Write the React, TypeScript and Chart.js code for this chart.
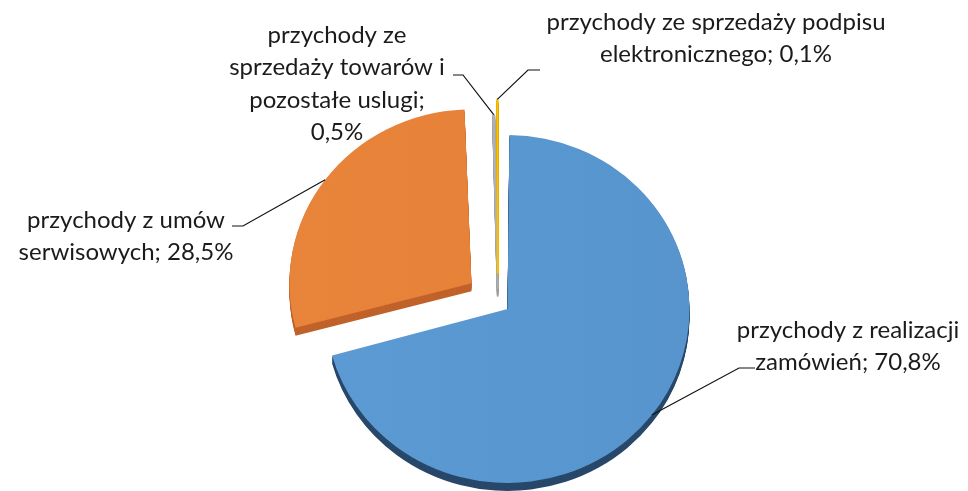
import React, { useEffect, useRef } from 'react';
import { Chart, registerables } from 'chart.js';

Chart.register(...registerables);

const categories = [
  'przychody z realizacji zamówień',
  'przychody z umów serwisowych',
  'przychody ze sprzedaży towarów i pozostałe uslugi',
  'przychody ze sprzedaży podpisu elektronicznego',
];
const values = [70.8, 28.5, 0.5, 0.1];
const labelLines = [
  ['przychody z realizacji', 'zamówień; 70,8%'],
  ['przychody z umów', 'serwisowych; 28,5%'],
  ['przychody ze', 'sprzedaży towarów i', 'pozostałe uslugi;', '0,5%'],
  ['przychody ze sprzedaży podpisu', 'elektronicznego; 0,1%'],
];
const topColorsLight = ['#5e9ed8', '#eb863d', '#dadada', '#ffc000'];
const topColorsDark = ['#5490c8', '#e37d35', '#d0d0d0', '#ffc000'];
const edgeColors = ['#5b9bd5', '#ea833a', '#b0b0b0', '#ffc000'];
const sideColors = ['#28486a', '#c0622a', '#9c9c9c', '#c99700'];
const borderWidths = [0, 0, 1.6, 2];
const explode = [48, 132, 56, 120];

const W = 968;
const H = 491;
const SY = 0.956;
const DEPTH = 8;
const FONT = '24px Lato';
const LH = 32.5;

const labelLayout = [
  { cx: 848, y0: 330, start: [755, 368], elbow: [739, 368] },
  { cx: 126, y0: 220, start: [232, 226], elbow: [243, 226] },
  { cx: 337, y0: 35, start: [453, 75], elbow: [463, 75] },
  { cx: 716, y0: 22, start: [540, 70], elbow: [528, 70] },
];

function withTilt(ctx: CanvasRenderingContext2D, cx: number, cy: number) {
  ctx.translate(cx, cy);
  ctx.scale(1, SY);
  ctx.translate(-cx, -cy);
}

function radiusGrowth(el: any) {
  const off = (el.options.offset || 0) / 4;
  const fix = 1 - Math.sin(Math.min(Math.PI, el.circumference || 0));
  return off * fix;
}

function sliceFill(c: any) {
  const chart = c.chart;
  const i = c.dataIndex;
  const area = chart.chartArea;
  if (!area) return topColorsLight[i];
  const g = chart.ctx.createLinearGradient(area.left + 40, 0, area.right, 0);
  g.addColorStop(0, topColorsLight[i]);
  g.addColorStop(1, topColorsDark[i]);
  return g;
}

const tiltPlugin = {
  id: 'tilt3d',
  afterDatasetUpdate(chart: any, args: any) {
    // keep every exploded slice at the same radius (Chart.js grows it with offset)
    args.meta.data.forEach((el: any) => {
      el.outerRadius = el.outerRadius - radiusGrowth(el);
    });
  },
  beforeDatasetsDraw(chart: any) {
    const ctx = chart.ctx as CanvasRenderingContext2D;
    const meta = chart.getDatasetMeta(0);
    const c = meta.data[0];
    const cx = c.x;
    const cy = c.y;
    for (let dy = DEPTH; dy >= 1; dy--) {
      ctx.save();
      ctx.translate(0, dy);
      withTilt(ctx, cx, cy);
      meta.data.forEach((el: any, i: number) => {
        const orig = el.options;
        el.options = Object.assign({}, orig, { backgroundColor: sideColors[i], borderColor: sideColors[i] });
        el.draw(ctx);
        el.options = orig;
      });
      ctx.restore();
    }
    ctx.save();
    withTilt(ctx, cx, cy);
  },
  afterDatasetsDraw(chart: any) {
    const ctx = chart.ctx as CanvasRenderingContext2D;
    ctx.restore();
    const meta = chart.getDatasetMeta(0);
    ctx.save();
    ctx.font = FONT;
    ctx.fillStyle = '#1b1b1b';
    ctx.textAlign = 'center';
    ctx.textBaseline = 'middle';
    ctx.strokeStyle = '#111';
    ctx.lineWidth = 1.2;
    meta.data.forEach((el: any, i: number) => {
      const half = (el.startAngle + el.endAngle) / 2;
      const shift = (el.options.offset || 0) / 4;
      const r = el.outerRadius + radiusGrowth(el) + shift;
      const rx = el.x + Math.cos(half) * r;
      const ry = el.y + Math.sin(half) * r * SY;
      const L = labelLayout[i];
      labelLines[i].forEach((t, k) => ctx.fillText(t, L.cx, L.y0 + k * LH));
      ctx.beginPath();
      ctx.moveTo(L.start[0], L.start[1]);
      ctx.lineTo(L.elbow[0], L.elbow[1]);
      ctx.lineTo(rx, ry);
      ctx.stroke();
    });
    ctx.restore();
  },
};

export default function App() {
  const ref = useRef<HTMLCanvasElement>(null);
  useEffect(() => {
    if (!ref.current) return;
    const chart = new Chart(ref.current, {
      type: 'pie',
      data: {
        labels: categories,
        datasets: [
          {
            data: values,
            backgroundColor: sliceFill,
            borderColor: edgeColors,
            borderWidth: borderWidths,
            offset: explode,
            clip: false as any,
          } as any,
        ],
      },
      options: {
        responsive: false,
        animation: false,
        radius: 182,
        layout: { padding: { left: 28, right: 0, top: 113, bottom: 0 } },
        plugins: { legend: { display: false }, tooltip: { enabled: false } },
        events: [],
      } as any,
      plugins: [tiltPlugin],
    });
    return () => chart.destroy();
  }, []);
  return (
    <div style={{ position: 'absolute', left: 0, top: 0, width: W, height: H, background: '#fff' }}>
      <canvas ref={ref} width={W} height={H} style={{ width: W, height: H, display: 'block' }} />
    </div>
  );
}
